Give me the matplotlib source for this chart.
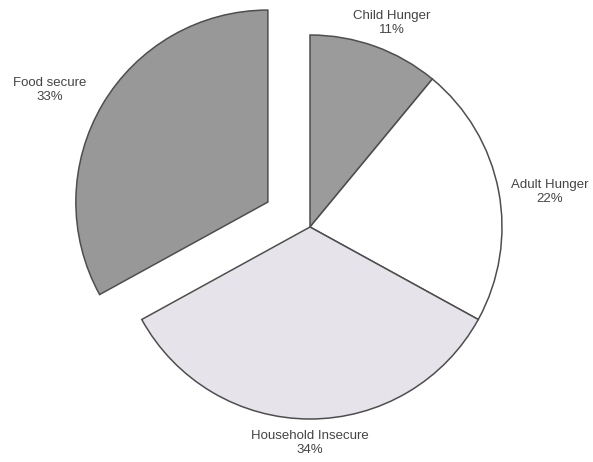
import matplotlib.pyplot as plt

# share of households by food security status
labels = ["Child Hunger", "Adult Hunger", "Household Insecure", "Food secure"]
shares = [11, 22, 34, 33]

colors = ["#9b9b9b", "#ffffff", "#e6e4ea", "#989898"]
explode = [0, 0, 0, 0.255]

W, H = 593, 462
R_PX = 192.0          # pie radius in pixels
CX, CY = 310, 227     # pie centre in pixels (from top-left)


def px(x, y):
    # pixel position (from top-left) -> data coords of a unit-radius pie
    return (x - CX) / R_PX, (CY - y) / R_PX


fig = plt.figure(figsize=(W / 100, H / 100), dpi=100)
ax = fig.add_axes([0, 0, 1, 1])

ax.pie(shares, colors=colors, explode=explode, startangle=90,
       counterclock=False, radius=1,
       wedgeprops=dict(edgecolor="#4e4e4e", linewidth=1.1))

ax.set_xlim(-CX / R_PX, (W - CX) / R_PX)
ax.set_ylim(-(H - CY) / R_PX, CY / R_PX)
ax.set_aspect("equal")
ax.axis("off")

# label anchors (pixel coords of the text centre)
label_pos = [(392, 23), (550, 192), (310, 443), (50, 90)]
for name, val, (lx, ly) in zip(labels, shares, label_pos):
    tx, ty = px(lx, ly)
    ax.text(tx, ty, f"{name}\n{val}%", ha="center", va="center",
            fontsize=9.5, family="Liberation Sans", color="#444444",
            linespacing=1.3)

fig.savefig("out.png", dpi=100, facecolor="white")
